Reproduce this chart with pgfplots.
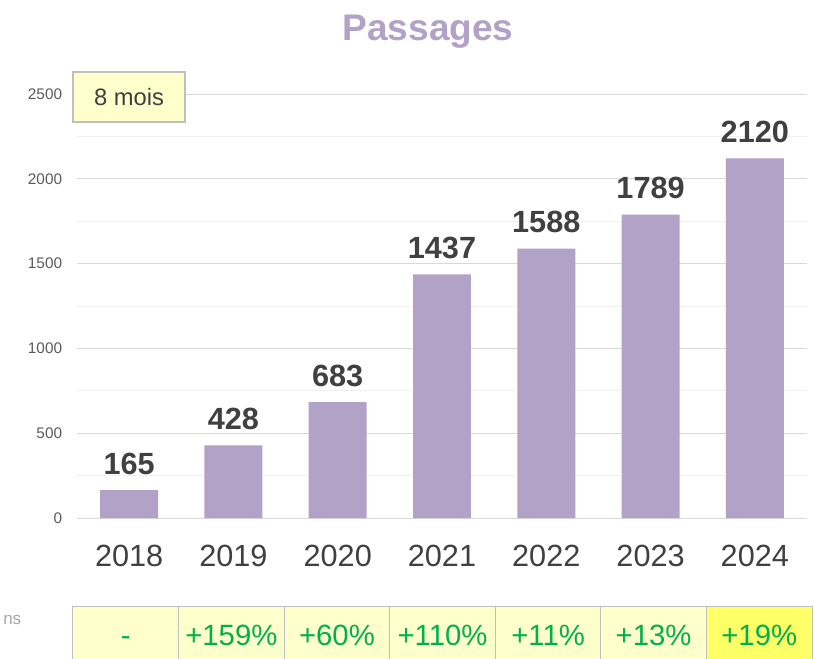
\documentclass[border=0pt]{standalone}
\usepackage{pgfplots}
\pgfplotsset{compat=1.18}
\usepackage{fontspec}
\setmainfont{Liberation Sans}
\definecolor{barc}{HTML}{B3A2C7}
\definecolor{lab}{HTML}{404040}
\definecolor{tick}{HTML}{595959}
\definecolor{gmaj}{HTML}{D9D9D9}
\definecolor{gmin}{HTML}{F0F0F0}
\definecolor{cellc}{HTML}{FFFFCC}
\definecolor{cellh}{HTML}{FFFF66}
\definecolor{cellb}{HTML}{BFBFBF}
\definecolor{grn}{HTML}{00B050}
\begin{document}
\begin{tikzpicture}
\useasboundingbox (-57.75pt,-105pt) rectangle (553.5pt,388.5pt);
\begin{axis}[
  at={(0pt,0pt)}, anchor=south west,
  scale only axis, width=547.5pt, height=318pt,
  xmin=-0.5, xmax=6.5, ymin=0, ymax=2500,
  clip=false,
  ybar, bar width=0.556,
  axis line style={draw=none},
  major tick length=0pt, minor tick length=0pt,
  ytick={0,500,1000,1500,2000,2500},
  minor y tick num=1,
  ymajorgrids, yminorgrids,
  major grid style={gmaj, line width=0.75pt},
  minor grid style={gmin, line width=0.75pt},
  xtick=data,
  xticklabels={2018,2019,2020,2021,2022,2023,2024},
  /pgf/number format/assume math mode=true,
  /pgf/number format/1000 sep={},
  yticklabel style={font=\fontsize{11.5}{13}\selectfont, text=tick, anchor=east, inner sep=0pt, xshift=-11pt},
  xticklabel style={font=\fontsize{23}{27}\selectfont, text=lab, anchor=north, inner sep=0pt, yshift=-20pt},
  nodes near coords,
  every node near coord/.append style={font=\fontsize{23}{27}\selectfont\bfseries, text=lab, anchor=base, inner sep=0pt, yshift=12pt},
]
\addplot[fill=barc, draw=none] coordinates {(0,165) (1,428) (2,683) (3,1437) (4,1588) (5,1789) (6,2120)};
% title
\node[anchor=base, font=\fontsize{27.8}{32}\selectfont\bfseries, text=barc] at (axis cs:2.866,2818) {Passages};
% 8 mois box
\draw[fill=cellc, draw=cellb, line width=1pt] (axis cs:-0.537,2335) rectangle (axis cs:0.537,2630);
\node[font=\fontsize{17.8}{21}\selectfont, text=lab] at (axis cs:0,2482) {8 mois};
% left cut label
\node[font=\fontsize{12.75}{15}\selectfont, text=gray!70] at (axis cs:-1.121,-601) {ns};
\end{axis}
% table of changes
\foreach \i/\t in {0/-,1/+159\%,2/+60\%,3/+110\%,4/+11\%,5/+13\%,6/+19\%}{
  \pgfmathsetmacro{\xa}{-3+\i*79.18}
  \pgfmathsetmacro{\xb}{\xa+79.18}
  \pgfmathsetmacro{\xc}{\xa+39.59}
  \ifnum\i=6
    \draw[fill=cellh, draw=cellb, line width=0.75pt] (\xa pt,-66pt) rectangle (\xb pt,-120pt);
  \else
    \draw[fill=cellc, draw=cellb, line width=0.75pt] (\xa pt,-66pt) rectangle (\xb pt,-120pt);
  \fi
  \node[anchor=base, inner sep=0pt, font=\fontsize{22}{26}\selectfont, text=grn] at (\xc pt,-95.25pt) {\t};
}
\end{tikzpicture}
\end{document}
